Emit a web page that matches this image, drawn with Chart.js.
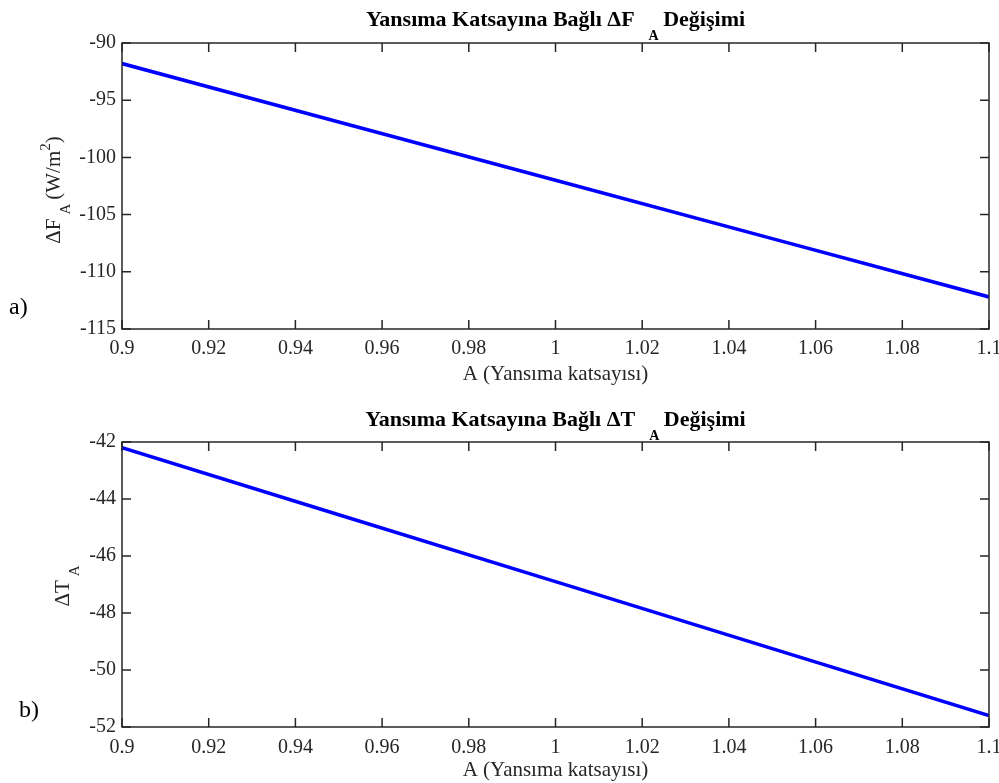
<!DOCTYPE html>
<html>
<head>
<meta charset="utf-8">
<script src="https://cdn.jsdelivr.net/npm/chart.js@4.4.1/dist/chart.umd.min.js"></script>
<style>
  body { margin: 0; background: #fff; font-family: "Liberation Serif", "Times New Roman", serif; }
  #wrap { position: relative; width: 999px; height: 783px; overflow: hidden; }
  canvas { position: absolute; left: 0; }
  .title { position: absolute; left: 122px; width: 867px; text-align: center; font-weight: bold; font-size: 22px; line-height: 24px; color: #000; white-space: nowrap; }
  .title .sub { font-size: 14px; position: relative; top: 14px; margin-left: 14px; margin-right: -1px; }
  .ylab { position: absolute; font-size: 21px; line-height: 24px; color: #262626; white-space: nowrap; transform: translate(-50%, -50%) rotate(-90deg); }
  .ylab .sub { font-size: 15px; position: relative; top: 10px; margin-left: 4px; margin-right: 4px; }
  .ylab .sup { font-size: 15px; position: relative; top: -10px; }
  .tag { position: absolute; font-size: 24px; line-height: 25px; color: #000; }
</style>
</head>
<body>
<div id="wrap">
  <canvas id="chartF" width="999" height="392" style="top:0"></canvas>
  <canvas id="chartT" width="999" height="391" style="top:392px"></canvas>

  <div class="title" style="top:7px">Yansıma Katsayına Bağlı ΔF<span class="sub">A</span> Değişimi</div>
  <div class="title" style="top:407px">Yansıma Katsayına Bağlı ΔT<span class="sub">A</span> Değişimi</div>

  <div class="ylab" style="left:54px; top:190px">ΔF<span class="sub">A</span>(W/m<span class="sup">2</span>)</div>
  <div class="ylab" style="left:63px; top:584px">ΔT<span class="sub">A</span></div>

  <div class="tag" style="left:9px; top:294px">a)</div>
  <div class="tag" style="left:19px; top:697px">b)</div>
</div>
<script>
// values
const aValues = [0.9, 0.95, 1.0, 1.05, 1.1];
const deltaF = [-91.8, -96.9, -102.0, -107.1, -112.2];
const deltaT = [-42.2, -44.55, -46.9, -49.25, -51.6];

const xTicks = [0.9, 0.92, 0.94, 0.96, 0.98, 1.0, 1.02, 1.04, 1.06, 1.08, 1.1];
const fTicks = [-115, -110, -105, -100, -95, -90];
const tTicks = [-52, -50, -48, -46, -44, -42];

const AXIS_COLOR = '#262626';
const TICK_LEN = 9;

// MATLAB-like box with inward ticks on all four sides
const matlabBox = {
  id: 'matlabBox',
  afterDraw(chart) {
    const { ctx, chartArea: a } = chart;
    const x = chart.scales.x, y = chart.scales.y;
    ctx.save();
    ctx.strokeStyle = AXIS_COLOR;
    ctx.lineWidth = 1.5;
    ctx.beginPath();
    x.ticks.forEach(t => {
      const px = x.getPixelForValue(t.value);
      ctx.moveTo(px, a.bottom); ctx.lineTo(px, a.bottom - TICK_LEN);
      ctx.moveTo(px, a.top); ctx.lineTo(px, a.top + TICK_LEN);
    });
    y.ticks.forEach(t => {
      const py = y.getPixelForValue(t.value);
      ctx.moveTo(a.left, py); ctx.lineTo(a.left + TICK_LEN, py);
      ctx.moveTo(a.right, py); ctx.lineTo(a.right - TICK_LEN, py);
    });
    ctx.stroke();
    ctx.strokeRect(a.left, a.top, a.right - a.left, a.bottom - a.top);
    ctx.restore();
  }
};

function makeChart(id, values, yTicks, p) {
  const fixed = (arr) => (scale) => { scale.ticks = arr.map(v => ({ value: v })); };
  return new Chart(document.getElementById(id), {
    type: 'line',
    data: {
      datasets: [{
        data: aValues.map((a, i) => ({ x: a, y: values[i] })),
        borderColor: '#0000ff',
        borderWidth: 3.6,
        pointRadius: 0,
        fill: false,
        tension: 0,
      }],
    },
    options: {
      responsive: false,
      animation: false,
      layout: { padding: { top: p.areaTop, right: 10, left: 0, bottom: 0 } },
      plugins: { legend: { display: false }, tooltip: { enabled: false } },
      scales: {
        x: {
          type: 'linear',
          min: xTicks[0],
          max: xTicks[xTicks.length - 1],
          afterBuildTicks: fixed(xTicks),
          afterFit(scale) {
            scale.height = p.xHeight;
            scale.paddingLeft = 0;
            scale.paddingRight = 0;
          },
          grid: { display: false, drawTicks: false },
          border: { display: false },
          ticks: {
            color: AXIS_COLOR,
            padding: p.xTickPad,
            maxRotation: 0,
            autoSkip: false,
            font: { family: 'Liberation Serif', size: 20 },
            callback: v => String(+v.toFixed(2)),
          },
          title: {
            display: true,
            text: 'A (Yansıma katsayısı)',
            color: AXIS_COLOR,
            font: { family: 'Liberation Serif', size: 21 },
            padding: { top: 0, bottom: p.xTitlePad },
          },
        },
        y: {
          min: yTicks[0],
          max: yTicks[yTicks.length - 1],
          afterBuildTicks: fixed(yTicks),
          afterFit(scale) { scale.width = 122; },
          grid: { display: false, drawTicks: false },
          border: { display: false },
          ticks: {
            color: AXIS_COLOR,
            padding: 6,
            autoSkip: false,
            font: { family: 'Liberation Serif', size: 20 },
            callback: v => String(v),
          },
        },
      },
    },
    plugins: [matlabBox],
  });
}

makeChart('chartF', deltaF, fTicks, { areaTop: 43, xHeight: 63, xTickPad: 8, xTitlePad: 5 });
makeChart('chartT', deltaT, tTicks, { areaTop: 50, xHeight: 56, xTickPad: 9, xTitlePad: 0 });
</script>
</body>
</html>
